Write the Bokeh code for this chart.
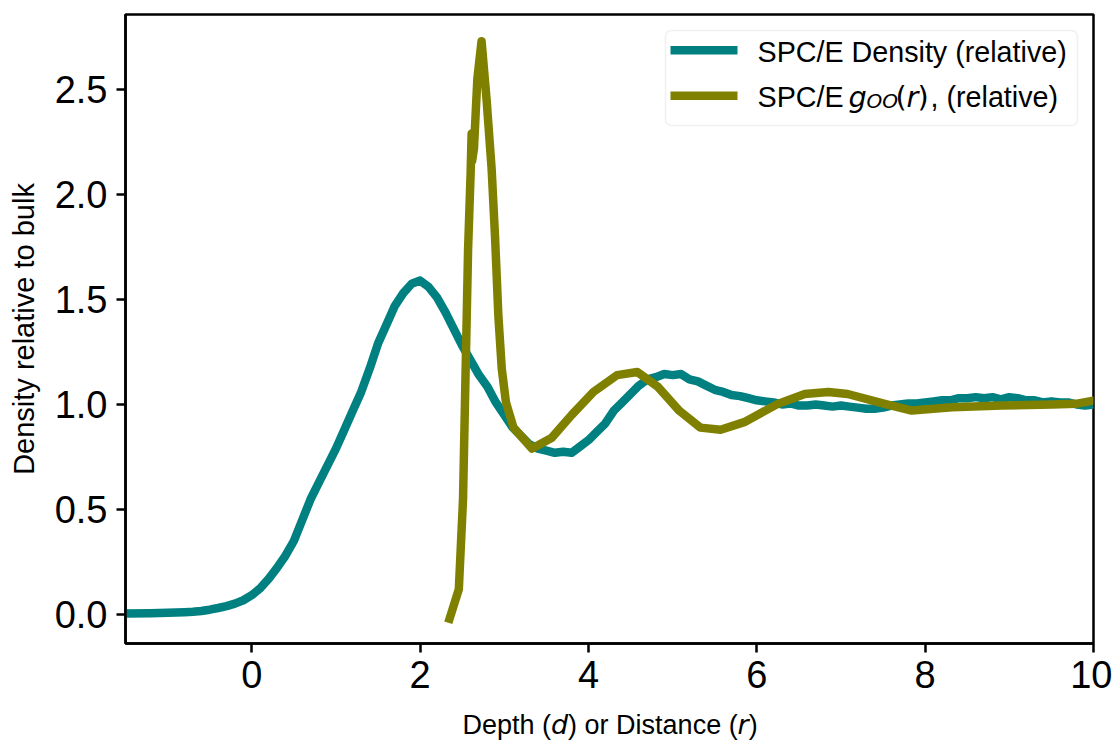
from bokeh.plotting import figure
from bokeh.layouts import column
from bokeh.models import Range1d, FixedTicker, PrintfTickFormatter, Label, BoxAnnotation
from bokeh.embed import file_html
from bokeh.resources import INLINE

# ---- data ----
depth = [-1.5, -1.2, -1.0, -0.8, -0.7, -0.6, -0.5, -0.4, -0.3, -0.2, -0.1,
         0.0, 0.1, 0.2, 0.3, 0.4, 0.5, 0.6, 0.7, 0.8, 0.9,
         1.0, 1.1, 1.2, 1.3, 1.4, 1.5, 1.6, 1.7, 1.8, 1.9,
         2.0, 2.1, 2.2, 2.3, 2.4, 2.5, 2.6, 2.7, 2.8, 2.9,
         3.0, 3.1, 3.2, 3.3, 3.4, 3.5, 3.6, 3.7, 3.8, 3.9,
         4.0, 4.1, 4.2, 4.3, 4.4, 4.5, 4.6, 4.7, 4.8, 4.9,
         5.0, 5.1, 5.2, 5.3, 5.4, 5.5, 5.6, 5.7, 5.8, 5.9,
         6.0, 6.1, 6.2, 6.3, 6.4, 6.5, 6.6, 6.7, 6.8, 6.9,
         7.0, 7.1, 7.2, 7.3, 7.4, 7.5, 7.6, 7.7, 7.8, 7.9,
         8.0, 8.1, 8.2, 8.3, 8.4, 8.5, 8.6, 8.7, 8.8, 8.9,
         9.0, 9.1, 9.2, 9.3, 9.4, 9.5, 9.6, 9.7, 9.8, 9.9, 10.0]
density = [0.005, 0.006, 0.008, 0.011, 0.013, 0.017, 0.023, 0.031, 0.040, 0.052, 0.068,
           0.092, 0.125, 0.170, 0.222, 0.280, 0.350, 0.450, 0.550, 0.630, 0.710,
           0.790, 0.880, 0.970, 1.060, 1.170, 1.290, 1.380, 1.470, 1.530, 1.575,
           1.590, 1.560, 1.510, 1.440, 1.360, 1.280, 1.210, 1.140, 1.085, 1.010,
           0.950, 0.890, 0.850, 0.810, 0.790, 0.780, 0.770, 0.775, 0.770, 0.800,
           0.830, 0.870, 0.910, 0.970, 1.010, 1.050, 1.090, 1.120, 1.130, 1.145,
           1.140, 1.145, 1.120, 1.110, 1.090, 1.070, 1.060, 1.045, 1.040, 1.030,
           1.020, 1.015, 1.010, 1.000, 1.005, 0.995, 0.995, 1.000, 0.995, 0.990,
           0.995, 0.990, 0.985, 0.980, 0.980, 0.985, 0.995, 1.000, 1.005, 1.005,
           1.010, 1.015, 1.020, 1.020, 1.030, 1.030, 1.035, 1.030, 1.035, 1.025,
           1.035, 1.030, 1.020, 1.020, 1.010, 1.015, 1.010, 1.010, 1.000, 0.995, 1.000]

rdf_r = [2.35, 2.46, 2.51, 2.54, 2.57, 2.60, 2.612, 2.618, 2.64, 2.68, 2.73,
         2.79, 2.85, 2.89, 2.93, 2.97, 3.02, 3.11, 3.33, 3.56, 3.80, 4.06,
         4.34, 4.58, 4.82, 5.08, 5.33, 5.57, 5.85, 6.25, 6.57, 6.85, 7.08,
         7.52, 7.84, 8.32, 8.91, 9.51, 9.79, 10.02]
rdf_g = [-0.02, 0.12, 0.55, 1.15, 1.74, 2.10, 2.29, 2.16, 2.22, 2.55, 2.73,
         2.45, 2.12, 1.80, 1.42, 1.17, 1.01, 0.89, 0.79, 0.84, 0.95, 1.06,
         1.14, 1.155, 1.086, 0.97, 0.89, 0.88, 0.916, 1.003, 1.05, 1.06, 1.05,
         1.003, 0.971, 0.987, 0.995, 1.0, 1.003, 1.02]

x_ticks = [0, 2, 4, 6, 8, 10]
y_ticks = [0.0, 0.5, 1.0, 1.5, 2.0, 2.5]

TEAL = "#008080"
OLIVE = "#808000"
FONT = "Liberation Sans"
MATH = "DejaVu Sans"

W = 1112
H_MAIN, H_XLABEL = 710, 30
FL, FT, FR, FB = 125, 14, 1093, 643   # frame edges in page pixels

p = figure(width=W, height=H_MAIN, output_backend="svg", toolbar_location=None,
           x_range=Range1d(-1.5, 10), y_range=Range1d(-0.138, 2.857),
           min_border_left=FL, min_border_right=W - FR, min_border_top=FT,
           min_border_bottom=H_MAIN - FB)
p.grid.visible = False
p.outline_line_color = "black"
p.outline_line_width = 2.5
p.outline_line_alpha = 1.0
p.background_fill_color = "white"
p.border_fill_color = "white"

for ax in (p.xaxis[0], p.yaxis[0]):
    ax.axis_line_color = "black"
    ax.axis_line_width = 2.5
    ax.major_tick_line_color = "black"
    ax.major_tick_line_width = 2.5
    ax.major_tick_out = 9
    ax.major_tick_in = 0
    ax.minor_tick_out = 0
    ax.minor_tick_in = 0
    ax.major_label_text_font = FONT
    ax.major_label_text_font_size = "38px"
    ax.major_label_text_color = "black"

p.xaxis.ticker = FixedTicker(ticks=x_ticks)
p.yaxis.ticker = FixedTicker(ticks=y_ticks)
p.yaxis.formatter = PrintfTickFormatter(format="%.1f")
p.xaxis.major_label_standoff = 8
p.yaxis.major_label_standoff = 9
p.xaxis.axis_label = None

p.yaxis.axis_label = "Density relative to bulk"
p.yaxis.axis_label_text_font = FONT
p.yaxis.axis_label_text_font_size = "29px"
p.yaxis.axis_label_text_font_style = "normal"
p.yaxis.axis_label_text_color = "black"
p.yaxis.axis_label_standoff = 12

p.line(depth, density, color=TEAL, line_width=8.5, line_join="round")
p.line(rdf_r, rdf_g, color=OLIVE, line_width=8.5, line_join="round", line_cap="square")


def seg(fig, text, x, y, size, font=FONT, style="normal"):
    fig.add_layout(Label(x=x, y=y, x_units="screen", y_units="screen", text=text,
                         text_font=font, text_font_size=size, text_font_style=style,
                         text_color="black", text_baseline="alphabetic", text_align="left"))


def box(fig, l, r, b, t, **kw):
    fig.add_layout(BoxAnnotation(left=l, right=r, bottom=b, top=t,
                                 left_units="screen", right_units="screen",
                                 bottom_units="screen", top_units="screen", **kw))


# ---- legend (frame-relative screen units) ----
box(p, 540, 952, 518, 613, fill_color="white", fill_alpha=0.8,
    line_color="#cccccc", line_width=1.5, border_radius=6)
box(p, 545, 612, 589, 597.5, fill_color=TEAL, fill_alpha=1, line_alpha=0)
box(p, 545, 612, 543.5, 552, fill_color=OLIVE, fill_alpha=1, line_alpha=0)

LS = "28.7px"
seg(p, "SPC/E Density (relative)", 632, 591.5, LS)
l2 = 546.3
seg(p, "SPC/E", 632, l2, LS)
seg(p, "g", 723, l2, LS, MATH, "italic")
seg(p, "OO", 741, l2 - 4, "20px", MATH, "italic")
seg(p, "(", 770, l2, LS, MATH)
seg(p, "r", 781, l2, LS, MATH, "italic")
seg(p, ")", 792, l2, LS, MATH)
seg(p, ", (relative)", 805, l2, LS)

# ---- x axis label strip (its frame is aligned with the plot frame above) ----
q = figure(width=W, height=H_XLABEL, output_backend="svg", toolbar_location=None,
           x_axis_type=None, y_axis_type=None, min_border=0,
           x_range=Range1d(0, 1), y_range=Range1d(0, 1))
q.grid.visible = False
q.outline_line_color = None
q.background_fill_color = "white"
q.border_fill_color = "white"

XS = "27px"
xb = 16
x0 = 462 - FL
seg(q, "Depth (", x0, xb, XS)
seg(q, "d", x0 + 88.5, xb, XS, MATH, "italic")
seg(q, ") or Distance (", x0 + 105.6, xb, XS)
seg(q, "r", x0 + 275.1, xb, XS, MATH, "italic")
seg(q, ")", x0 + 286.2, xb, XS)

layout = column(p, q, spacing=0)
open("out.html", "w").write(file_html(layout, INLINE))
